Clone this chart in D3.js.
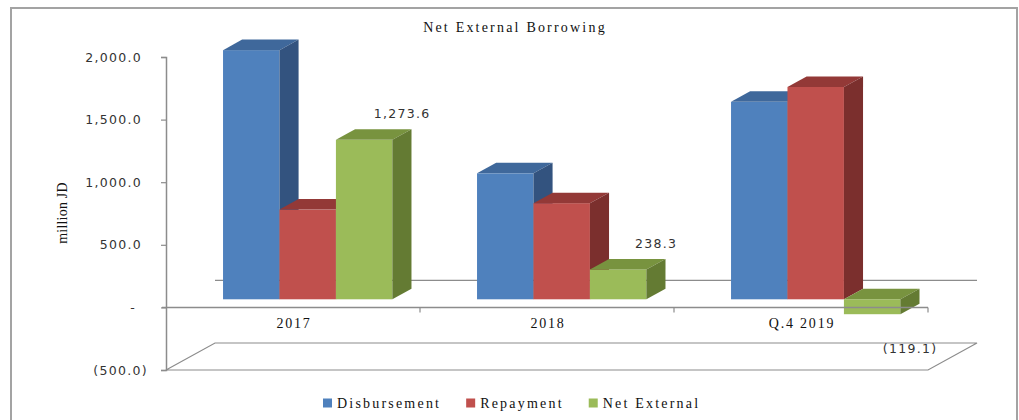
<!DOCTYPE html>
<html lang="en">
<head>
  <meta charset="UTF-8">
  <title>Net External Borrowing</title>
  <style>
    body { margin: 0; background: #fff; }
    .serif { font-family: "Liberation Serif", "DejaVu Serif", serif; fill: #111; }
    .sans { font-family: "DejaVu Sans", Verdana, sans-serif; fill: #333; }
  </style>
</head>
<body>
<script src="https://d3js.org/d3.v7.min.js"></script>
<script type="text/javascript">

  // data (million JD)
  var categories = ["2017", "2018", "Q.4 2019"];
  var seriesNames = ["Disbursement", "Repayment", "Net External"];
  var disbursement = [1990.0, 1006.0, 1577.0];
  var repayment = [716.4, 767.7, 1696.1];
  var netExternal = [1273.6, 238.3, -119.1];
  var yTicks = [-500, 0, 500, 1000, 1500, 2000];
  var labelledSeries = 2; // only the Net External bars carry data labels

  var seriesValues = [disbursement, repayment, netExternal];

  // front / top / side colours of the 3D bars
  var colors = [
    { front: "#4f81bd", top: "#3f689b", side: "#33537f" },
    { front: "#c0504d", top: "#933937", side: "#7b2f2d" },
    { front: "#9bbb59", top: "#78933f", side: "#647b33" }
  ];

  var W = 1019, H = 420;
  var svg = d3.select("body")
    .append("svg")
    .attr("width", W)
    .attr("height", H);

  // outer frame
  svg.append("rect")
    .attr("x", 11).attr("y", 8)
    .attr("width", 1006).attr("height", 430)
    .attr("fill", "none")
    .attr("stroke", "#a3a3a3")
    .attr("stroke-width", 2);

  // scales (front plane)
  var x = d3.scaleBand()
    .domain(categories)
    .range([166, 928])
    .padding(0);

  var y = d3.scaleLinear()
    .domain([-500, 2000])
    .range([370, 57]);

  // depth of the floor and position of the bars inside it
  var depth = { dx: 49, dy: -27 };
  var barFront = 0.3, barBack = 0.69;
  var fx = depth.dx * barFront, fy = depth.dy * barFront;
  var bx = depth.dx * (barBack - barFront), by = depth.dy * (barBack - barFront);

  var barW = x.bandwidth() / 4.5;
  var inner = d3.scaleBand()
    .domain(d3.range(seriesNames.length))
    .range([barW * 0.75, barW * 0.75 + barW * seriesNames.length]);

  var gray = "#8c8c8c";

  // floor at the axis minimum
  var yMin = y(yTicks[0]);
  svg.append("path")
    .attr("d", "M" + x.range()[0] + "," + yMin +
      "L" + x.range()[1] + "," + yMin +
      "L" + (x.range()[1] + depth.dx) + "," + (yMin + depth.dy) +
      "L" + (x.range()[0] + depth.dx) + "," + (yMin + depth.dy) + "Z")
    .attr("fill", "none")
    .attr("stroke", gray)
    .attr("stroke-width", 1.2);

  // zero line on the back wall
  svg.append("line")
    .attr("x1", x.range()[0] + depth.dx)
    .attr("x2", x.range()[1] + depth.dx)
    .attr("y1", y(0) + depth.dy)
    .attr("y2", y(0) + depth.dy)
    .attr("stroke", gray)
    .attr("stroke-width", 1.2);

  // bars, drawn left to right so later bars cover earlier side faces
  var bars = [];
  categories.forEach(function(cat, ci) {
    seriesValues.forEach(function(vals, si) {
      bars.push({ cat: cat, s: si, v: vals[ci] });
    });
  });

  var barG = svg.selectAll("g.bar")
    .data(bars)
    .enter()
    .append("g")
    .attr("class", "bar");

  function geom(d) {
    var x0 = x(d.cat) + inner(d.s) + fx;
    var x1 = x0 + barW;
    var yTop = y(Math.max(d.v, 0)) + fy;
    var yBot = y(Math.min(d.v, 0)) + fy;
    return { x0: x0, x1: x1, yTop: yTop, yBot: yBot };
  }

  barG.append("rect")
    .attr("x", function(d) { return geom(d).x0; })
    .attr("y", function(d) { return geom(d).yTop; })
    .attr("width", barW)
    .attr("height", function(d) { var g = geom(d); return g.yBot - g.yTop; })
    .attr("fill", function(d) { return colors[d.s].front; });

  barG.append("path")
    .attr("d", function(d) {
      var g = geom(d);
      return "M" + g.x0 + "," + g.yTop + "L" + g.x1 + "," + g.yTop +
        "L" + (g.x1 + bx) + "," + (g.yTop + by) + "L" + (g.x0 + bx) + "," + (g.yTop + by) + "Z";
    })
    .attr("fill", function(d) { return colors[d.s].top; });

  barG.append("path")
    .attr("d", function(d) {
      var g = geom(d);
      return "M" + g.x1 + "," + g.yTop + "L" + (g.x1 + bx) + "," + (g.yTop + by) +
        "L" + (g.x1 + bx) + "," + (g.yBot + by) + "L" + g.x1 + "," + g.yBot + "Z";
    })
    .attr("fill", function(d) { return colors[d.s].side; });

  // y axis
  var fmt = d3.format(",.1f");
  var yAxis = d3.axisLeft(y)
    .tickValues(yTicks)
    .tickSize(5)
    .tickPadding(19)
    .tickFormat(function(d) {
      if (d === 0) return "-";
      if (d < 0) return "(" + fmt(-d) + ")";
      return fmt(d);
    });

  var yG = svg.append("g")
    .attr("transform", "translate(" + x.range()[0] + ",0)")
    .call(yAxis);
  yG.select(".domain").attr("stroke", gray).attr("stroke-width", 1.5);
  yG.selectAll(".tick line").attr("stroke", gray).attr("stroke-width", 1.2);
  yG.selectAll(".tick text")
    .attr("class", "sans")
    .style("font-size", "12.5px")
    .style("letter-spacing", "1.3px")
    .attr("dx", function(d) { return d < 0 ? 6 : (d === 0 ? -6 : 0); });

  // category axis at zero, ticks at the band edges
  var xG = svg.append("g");
  xG.append("line")
    .attr("x1", x.range()[0] - 4)
    .attr("x2", x.range()[1])
    .attr("y1", y(0)).attr("y2", y(0))
    .attr("stroke", gray)
    .attr("stroke-width", 1.5);
  xG.selectAll("line.edge")
    .data(categories)
    .enter()
    .append("line")
    .attr("class", "edge")
    .attr("x1", function(d) { return x(d) + x.bandwidth(); })
    .attr("x2", function(d) { return x(d) + x.bandwidth(); })
    .attr("y1", y(0)).attr("y2", y(0) + 5)
    .attr("stroke", gray)
    .attr("stroke-width", 1.2);
  xG.selectAll("text")
    .data(categories)
    .enter()
    .append("text")
    .attr("class", "serif")
    .attr("x", function(d) { return x(d) + x.bandwidth() / 2 + 1; })
    .attr("y", y(0) + 21)
    .style("font-size", "14px")
    .style("letter-spacing", "1.8px")
    .style("text-anchor", "middle")
    .text(function(d) { return d; });

  // data labels on the net external bars
  svg.selectAll("text.dlabel")
    .data(bars.filter(function(d) { return d.s === labelledSeries; }))
    .enter()
    .append("text")
    .attr("class", "sans dlabel")
    .attr("x", function(d) { return geom(d).x0 + barW / 2 + 38; })
    .attr("y", function(d) { return d.v >= 0 ? y(d.v) - 30 : y(d.v) + 31; })
    .style("font-size", "12.5px")
    .style("letter-spacing", "1.3px")
    .style("text-anchor", "middle")
    .text(function(d) { return d.v < 0 ? "(" + fmt(-d.v) + ")" : fmt(d.v); });

  // title and axis title
  svg.append("text")
    .attr("class", "serif")
    .attr("x", 515)
    .attr("y", 32)
    .style("font-size", "14px")
    .style("letter-spacing", "2.2px")
    .style("text-anchor", "middle")
    .text("Net External Borrowing");

  svg.append("text")
    .attr("class", "serif")
    .attr("transform", "translate(67,213) rotate(-90)")
    .style("font-size", "14px")
    .style("letter-spacing", "0.2px")
    .style("text-anchor", "middle")
    .text("million JD");

  // legend
  var legend = svg.append("g").attr("transform", "translate(323,403)");
  var lx = 0;
  seriesNames.forEach(function(name, i) {
    var item = legend.append("g").attr("transform", "translate(" + lx + ",0)");
    item.append("rect")
      .attr("x", 0).attr("y", -4.5)
      .attr("width", 9).attr("height", 9)
      .attr("fill", colors[i].front);
    var t = item.append("text")
      .attr("class", "serif")
      .attr("x", 14)
      .attr("y", 5)
      .style("font-size", "14px")
      .style("letter-spacing", "2.2px")
      .text(name);
    lx += 14 + t.node().getComputedTextLength() + 25;
  });

</script>
</body>
</html>
